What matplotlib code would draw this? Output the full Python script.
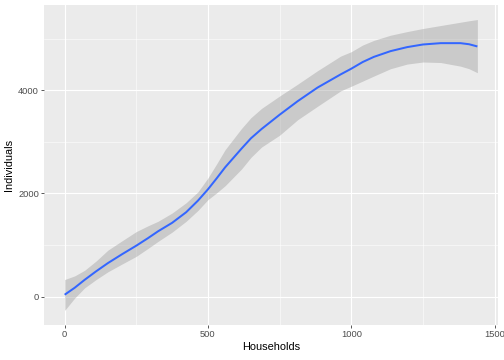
import matplotlib
matplotlib.use("Agg")
import matplotlib.pyplot as plt
import numpy as np

# loess fit (Households -> Individuals)
households = [0, 35, 70, 110, 151, 200, 250, 290, 326, 375, 424, 465, 500, 530, 560,
              617, 650, 687, 750, 813, 882, 963, 1000, 1040, 1079, 1137, 1195,
              1250, 1312, 1381, 1411, 1440]
fit = [35, 170, 325, 490, 649, 820, 987, 1130, 1266, 1430, 1636, 1860, 2080, 2290,
       2507, 2869, 3070, 3250, 3527, 3790, 4053, 4310, 4420, 4550, 4650, 4761, 4839,
       4890, 4916, 4916, 4895, 4852]
lower = [-270, -30, 170, 330, 480, 630, 780, 930, 1070, 1250, 1460, 1670, 1880,
         2010, 2150, 2474, 2700, 2900, 3130, 3430, 3690, 3990, 4080, 4180, 4278,
         4420, 4510, 4550, 4540, 4470, 4420, 4342]
upper = [330, 400, 510, 690, 900, 1080, 1260, 1370, 1460, 1620, 1820, 2030, 2300,
         2570, 2850, 3260, 3470, 3650, 3890, 4120, 4380, 4665, 4750, 4880, 4970,
         5070, 5140, 5200, 5258, 5322, 5350, 5374]

x_major = [0, 500, 1000, 1500]
x_minor = [250, 750, 1250]
y_major = [0, 2000, 4000]
y_minor = [1000, 3000, 5000]

plt.rcParams["font.family"] = ["Liberation Sans", "DejaVu Sans"]

fig = plt.figure(figsize=(7, 5), dpi=72)
ax = fig.add_axes([44 / 504, 1 - 325 / 360, 454 / 504, 320 / 360])
ax.set_facecolor("#EBEBEB")

x = np.array(households)
ax.fill_between(x, lower, upper, color="#999999", alpha=0.4, linewidth=0, zorder=2)
ax.plot(x, fit, color="#3366FF", linewidth=2.0, zorder=3, solid_capstyle="butt")

xspan = x.max() - x.min()
ax.set_xlim(x.min() - 0.05 * xspan, x.max() + 0.05 * xspan)
ylo, yhi = min(lower), max(upper)
ax.set_ylim(ylo - 0.05 * (yhi - ylo), yhi + 0.05 * (yhi - ylo))

ax.set_xticks(x_major)
ax.set_xticks(x_minor, minor=True)
ax.set_yticks(y_major)
ax.set_yticks(y_minor, minor=True)
ax.grid(True, which="major", color="white", linewidth=1.1, zorder=1)
ax.grid(True, which="minor", color="white", linewidth=0.55, zorder=1)
ax.set_axisbelow(True)

for s in ax.spines.values():
    s.set_visible(False)
ax.tick_params(which="major", length=2.75, width=0.8, color="#333333",
               labelsize=9.2, labelcolor="#4D4D4D", pad=2.2)
ax.tick_params(which="minor", length=0)

ax.set_xlabel("Households", fontsize=11, color="black", labelpad=3)
ax.set_ylabel("Individuals", fontsize=11, color="black", labelpad=4)

fig.savefig("out.png", dpi=72, facecolor="white")
